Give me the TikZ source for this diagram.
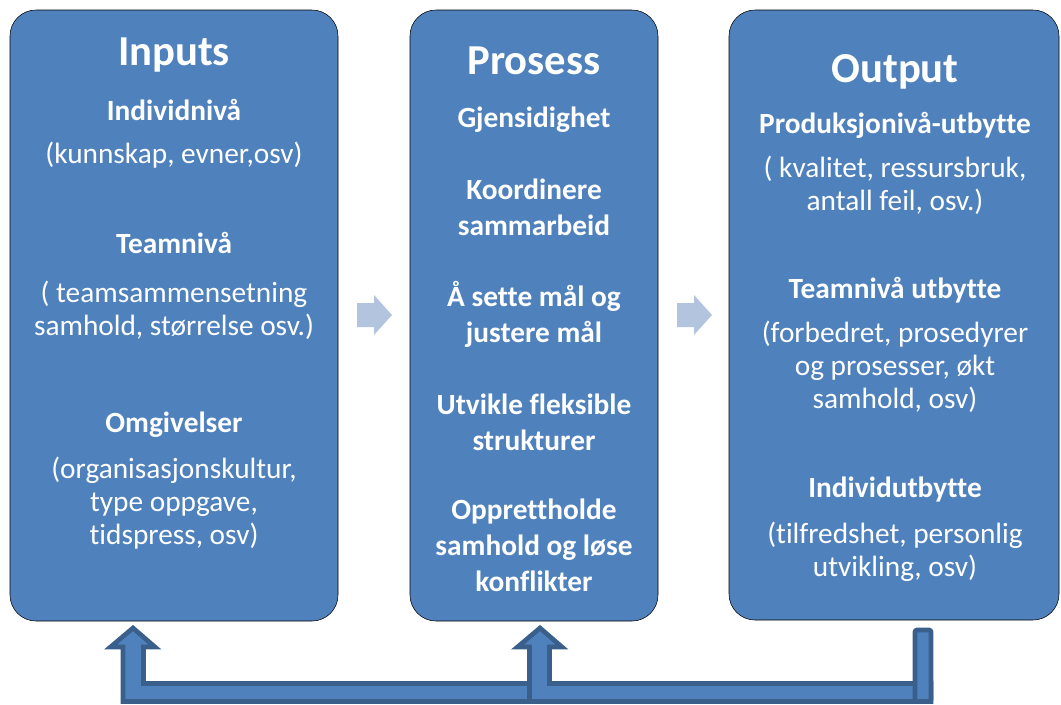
\documentclass[tikz,border=0pt]{standalone}
\usepackage{fontspec}
\setmainfont[Ligatures=NoCommon]{Carlito}

\definecolor{boxblue}{HTML}{4F81BD}
\definecolor{edgeblue}{HTML}{3A5F8B}
\definecolor{paleblue}{HTML}{B3C4DF}

\tikzset{
  stagebox/.style={fill=boxblue, rounded corners=19.5pt},
  stagetitle/.style={text=white, anchor=base, font=\fontsize{32}{38}\selectfont\bfseries},
  subhead/.style={text=white, anchor=base, align=center, font=\fontsize{22}{27}\selectfont\bfseries},
  bodytext/.style={text=white, anchor=base, align=center, font=\fontsize{22}{24.5}\selectfont},
  fwdarrow/.style={fill=paleblue},
  backarrow/.style={fill=boxblue, draw=edgeblue, line width=3.5pt, line join=miter}
}

\begin{document}
\begin{tikzpicture}[x=0.75pt, y=-0.75pt]
  \useasboundingbox (0,0) rectangle (1061,704);

  % the three stages
  \draw[stagebox] (10,10) rectangle (338,621);
  \draw[stagebox] (410,10) rectangle (658,621);
  \draw[stagebox] (729,10) rectangle (1059,620);

  % inputs (multi-line nodes sit on their last line)
  \node[stagetitle] (inputs) at (174,65) {Inputs};
  \node[subhead] (indiv) at (174,120) {Individnivå};
  \node[bodytext] (indivtxt) at (174,163) {(kunnskap, evner,osv)};
  \node[subhead] (team) at (174,253) {Teamnivå};
  \node[bodytext] (teamtxt) at (174,335) {( teamsammensetning\\samhold, størrelse osv.)};
  \node[subhead] (omg) at (174,432) {Omgivelser};
  \node[bodytext] (omgtxt) at (174,544) {(organisasjonskultur,\\type oppgave,\\tidspress, osv)};

  % prosess
  \node[stagetitle] (prosess) at (534,74) {Prosess};
  \node[subhead] (gjens) at (534,127) {Gjensidighet};
  \node[subhead] (koord) at (534,235) {Koordinere\\sammarbeid};
  \node[subhead] (maal) at (534,342) {Å sette mål og\\justere mål};
  \node[subhead] (strukt) at (534,450) {Utvikle fleksible\\strukturer};
  \node[subhead] (konfl) at (534,591) {Opprettholde\\samhold og løse\\konflikter};

  % output
  \node[stagetitle] (output) at (895,82) {Output};
  \node[subhead] (prod) at (895,133) {Produksjonivå-utbytte};
  \node[bodytext] (prodtxt) at (895,210) {( kvalitet, ressursbruk,\\antall feil, osv.)};
  \node[subhead] (teamut) at (895,298) {Teamnivå utbytte};
  \node[bodytext] (teamuttxt) at (895,408) {(forbedret, prosedyrer\\og prosesser, økt\\samhold, osv)};
  \node[subhead] (indivut) at (895,497) {Individutbytte};
  \node[bodytext] (indivuttxt) at (895,576) {(tilfredshet, personlig\\utvikling, osv)};

  % forward arrows
  \fill[fwdarrow] (357,303) -- (374,303) -- (374,295) -- (392,315) -- (374,335) -- (374,327) -- (357,327) -- cycle;
  \fill[fwdarrow] (677,303) -- (694,303) -- (694,295) -- (712,315) -- (694,335) -- (694,327) -- (677,327) -- cycle;

  % feedback
  \draw[backarrow] (143.5,683.5) -- (143.5,647) -- (155,647) -- (133,628) -- (110.5,647) -- (123,647) -- (123,701.5) -- (530,701.5) -- (530,683.5) -- cycle;
  \draw[backarrow] (549.5,683.5) -- (549.5,647) -- (562,647) -- (540,628) -- (517.5,647) -- (529.5,647) -- (529.5,701.5) -- (931,701.5) -- (931,683.5) -- cycle;
  \draw[backarrow, rounded corners=1.5pt] (915,630) rectangle (931,701.5);
\end{tikzpicture}
\end{document}
